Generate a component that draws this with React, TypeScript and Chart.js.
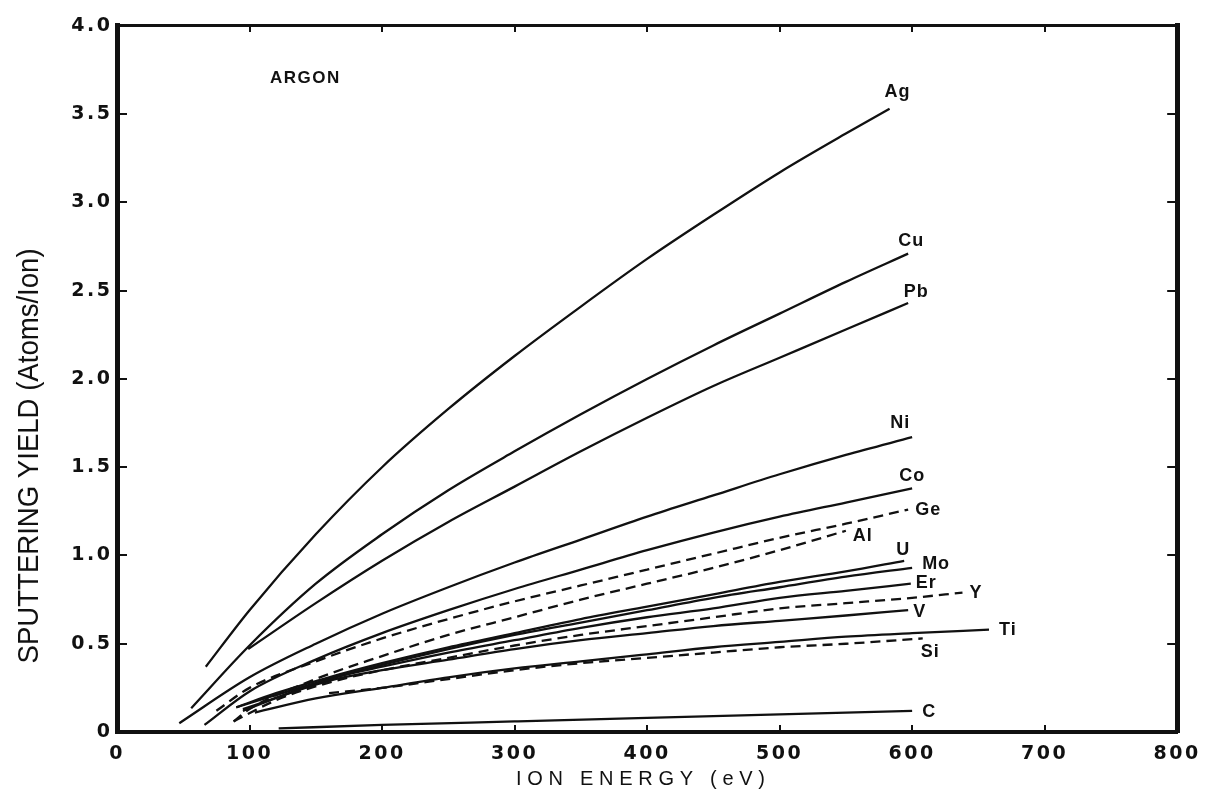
import React, { useEffect, useRef } from "react";
import { Chart, registerables } from "chart.js";

Chart.register(...registerables);

// ---- Data (ion energy in eV, sputtering yield in atoms/ion) ----
const X_MIN = 0;
const X_MAX = 800;
const X_STEP = 100;
const Y_MIN = 0;
const Y_MAX = 4.0;
const Y_STEP = 0.5;

const AG = [[67, 0.37], [100, 0.69], [150, 1.12], [200, 1.5], [250, 1.83], [300, 2.13], [350, 2.41], [400, 2.68], [450, 2.93], [500, 3.17], [550, 3.39], [583, 3.53]];
const CU = [[56, 0.135], [100, 0.49], [150, 0.84], [200, 1.12], [250, 1.37], [300, 1.59], [350, 1.8], [400, 2.0], [450, 2.19], [500, 2.37], [550, 2.55], [597, 2.71]];
const PB = [[99, 0.47], [150, 0.73], [200, 0.97], [250, 1.19], [300, 1.39], [350, 1.59], [400, 1.78], [450, 1.96], [500, 2.12], [550, 2.28], [597, 2.43]];
const NI = [[47, 0.05], [100, 0.31], [150, 0.5], [200, 0.67], [250, 0.82], [300, 0.96], [350, 1.09], [400, 1.22], [450, 1.34], [500, 1.46], [550, 1.57], [600, 1.67]];
const CO = [[66, 0.04], [100, 0.23], [150, 0.41], [200, 0.56], [250, 0.69], [300, 0.81], [350, 0.92], [400, 1.03], [450, 1.13], [500, 1.22], [550, 1.3], [600, 1.38]];
const GE = [[75, 0.12], [100, 0.25], [150, 0.4], [200, 0.53], [250, 0.64], [300, 0.74], [350, 0.83], [400, 0.92], [450, 1.01], [500, 1.1], [550, 1.18], [597, 1.26]];
const AL = [[88, 0.06], [100, 0.13], [150, 0.3], [200, 0.43], [250, 0.55], [300, 0.65], [350, 0.75], [400, 0.84], [450, 0.93], [500, 1.03], [550, 1.14]];
const U = [[90, 0.14], [120, 0.22], [160, 0.31], [200, 0.39], [250, 0.48], [300, 0.56], [350, 0.64], [400, 0.71], [450, 0.78], [500, 0.85], [550, 0.91], [594, 0.97]];
const MO = [[90, 0.14], [160, 0.3], [200, 0.38], [250, 0.47], [300, 0.55], [350, 0.62], [400, 0.69], [450, 0.76], [500, 0.82], [550, 0.88], [600, 0.93]];
const ER = [[95, 0.12], [160, 0.3], [200, 0.37], [250, 0.45], [300, 0.52], [350, 0.59], [400, 0.65], [450, 0.7], [500, 0.76], [550, 0.8], [599, 0.84]];
const YT = [[88, 0.06], [120, 0.18], [160, 0.28], [200, 0.35], [250, 0.42], [300, 0.49], [350, 0.55], [400, 0.6], [450, 0.65], [500, 0.7], [550, 0.73], [600, 0.76], [638, 0.79]];
const V = [[95, 0.13], [160, 0.29], [200, 0.35], [250, 0.41], [300, 0.47], [350, 0.52], [400, 0.56], [450, 0.6], [500, 0.63], [550, 0.66], [597, 0.69]];
const TI = [[104, 0.11], [150, 0.19], [200, 0.25], [250, 0.31], [300, 0.36], [350, 0.4], [400, 0.44], [450, 0.48], [500, 0.51], [550, 0.54], [600, 0.56], [658, 0.58]];
const SI = [[160, 0.22], [200, 0.25], [250, 0.3], [300, 0.35], [350, 0.39], [400, 0.42], [450, 0.45], [500, 0.48], [550, 0.5], [608, 0.53]];
const C = [[122, 0.02], [200, 0.04], [300, 0.06], [400, 0.08], [500, 0.1], [600, 0.12]];

const SERIES_NAMES = ["Ag", "Cu", "Pb", "Ni", "Co", "Ge", "Al", "U", "Mo", "Er", "Y", "V", "Ti", "Si", "C"];
const SERIES_DATA = [AG, CU, PB, NI, CO, GE, AL, U, MO, ER, YT, V, TI, SI, C];
const DASHED = ["Ge", "Al", "Y", "Si"];

const X_TITLE = "ION ENERGY (eV)";
const Y_TITLE = "SPUTTERING YIELD (Atoms/Ion)";
const GAS_LABEL = "ARGON";

// ---- Styling of the curve labels (pixel offsets from each curve's end) ----
const LABEL_STYLE: Record<string, { dx: number; dy: number; align: CanvasTextAlign }> = {
  Ag: { dx: 8, dy: -17, align: "center" },
  Cu: { dx: 3, dy: -13, align: "center" },
  Pb: { dx: 8, dy: -11, align: "center" },
  Ni: { dx: -12, dy: -14, align: "center" },
  Co: { dx: 0, dy: -12, align: "center" },
  Ge: { dx: 7, dy: 0, align: "left" },
  Al: { dx: 7, dy: 5, align: "left" },
  U: { dx: -1, dy: -11, align: "center" },
  Mo: { dx: 10, dy: -4, align: "left" },
  Er: { dx: 5, dy: -1, align: "left" },
  Y: { dx: 7, dy: 0, align: "left" },
  V: { dx: 5, dy: 2, align: "left" },
  Ti: { dx: 10, dy: 0, align: "left" },
  Si: { dx: -2, dy: 14, align: "left" },
  C: { dx: 10, dy: 1, align: "left" },
};

const INK = "#111111";
const FONT = '"Liberation Sans", Arial, sans-serif';
const TICK_FONT = '"DejaVu Sans", sans-serif';

const decorPlugin = {
  id: "decor",
  beforeDraw(chart: any) {
    chart.ctx.letterSpacing = "2.5px";
  },
  beforeDatasetsDraw(chart: any) {
    chart.ctx.letterSpacing = "0px";
  },
  afterDatasetsDraw(chart: any) {
    const ctx = chart.ctx as CanvasRenderingContext2D;
    ctx.save();
    ctx.fillStyle = INK;
    ctx.textBaseline = "middle";
    ctx.font = `bold 18px ${FONT}`;
    (ctx as any).letterSpacing = "1px";
    chart.data.datasets.forEach((ds: any, i: number) => {
      const meta = chart.getDatasetMeta(i);
      const last = meta.data[meta.data.length - 1];
      const st = LABEL_STYLE[ds.label];
      if (!last || !st) return;
      ctx.textAlign = st.align;
      ctx.fillText(ds.label, last.x + st.dx, last.y + st.dy);
    });
    const xs = chart.scales.x;
    const ys = chart.scales.y;
    ctx.textAlign = "left";
    ctx.font = `bold 17px ${FONT}`;
    (ctx as any).letterSpacing = "1.5px";
    ctx.fillText(GAS_LABEL, xs.left + 153, ys.top + 52);
    ctx.restore();
  },
  afterDraw(chart: any) {
    const ctx = chart.ctx as CanvasRenderingContext2D;
    const area = chart.chartArea;
    ctx.save();
    ctx.fillStyle = INK;
    ctx.textBaseline = "middle";
    // y title (tall, condensed lettering)
    ctx.font = `30px ${FONT}`;
    (ctx as any).letterSpacing = "0px";
    ctx.textAlign = "center";
    const w = ctx.measureText(Y_TITLE).width;
    ctx.save();
    ctx.translate(30, area.top + 430);
    ctx.rotate(-Math.PI / 2);
    ctx.scale(415 / w, 1);
    ctx.fillText(Y_TITLE, 0, 0);
    ctx.restore();
    // x title (letter-spaced)
    ctx.font = `20px ${FONT}`;
    const wx = ctx.measureText(X_TITLE).width;
    const sp = (249 - wx) / (X_TITLE.length - 1);
    (ctx as any).letterSpacing = `${sp}px`;
    ctx.textAlign = "left";
    ctx.fillText(X_TITLE, 516, 779);
    ctx.restore();
  },
};

export default function App() {
  const ref = useRef<HTMLCanvasElement | null>(null);

  useEffect(() => {
    if (!ref.current) return;
    const datasets = SERIES_NAMES.map((name, i) => ({
      label: name,
      data: SERIES_DATA[i].map(([x, y]) => ({ x, y })),
      borderColor: INK,
      backgroundColor: INK,
      borderWidth: 2.3,
      borderDash: DASHED.includes(name) ? [10, 6] : [],
      pointRadius: 0,
      cubicInterpolationMode: "monotone",
      fill: false,
    }));

    const tickFont = { family: TICK_FONT, size: 19, weight: "bold" };
    const chart = new Chart(ref.current, {
      type: "line",
      data: { datasets },
      options: {
        responsive: false,
        animation: false,
        events: [],
        layout: { padding: { top: 20, right: 25, left: 0, bottom: 0 } },
        plugins: { legend: { display: false }, tooltip: { enabled: false } },
        scales: {
          x: {
            type: "linear",
            position: "bottom",
            min: X_MIN,
            max: X_MAX,
            ticks: { stepSize: X_STEP, color: INK, font: tickFont, padding: 18, maxRotation: 0 },
            grid: { drawOnChartArea: false, drawTicks: true, tickLength: -7, color: INK, lineWidth: 2 },
            border: { display: true, color: INK, width: 4 },
            afterFit: (s: any) => { s.height = 62; },
          },
          xTop: {
            type: "linear",
            position: "top",
            min: X_MIN,
            max: X_MAX,
            ticks: { stepSize: X_STEP, display: false },
            grid: { drawOnChartArea: false, drawTicks: true, tickLength: -6, color: INK, lineWidth: 2 },
            border: { display: true, color: INK, width: 3 },
            afterFit: (s: any) => { s.height = 0; },
          },
          y: {
            type: "linear",
            position: "left",
            min: Y_MIN,
            max: Y_MAX,
            ticks: {
              stepSize: Y_STEP,
              color: INK,
              font: tickFont,
              padding: 14.5,
              callback: (v: any) => (Number(v) === 0 ? "0" : Number(v).toFixed(1)),
            },
            grid: { drawOnChartArea: false, drawTicks: true, tickLength: -10, color: INK, lineWidth: 2 },
            border: { display: true, color: INK, width: 5 },
            afterFit: (s: any) => { s.width = 117; },
          },
          yRight: {
            type: "linear",
            position: "right",
            min: Y_MIN,
            max: Y_MAX,
            ticks: { stepSize: Y_STEP, display: false },
            grid: { drawOnChartArea: false, drawTicks: true, tickLength: -10, color: INK, lineWidth: 2 },
            border: { display: true, color: INK, width: 5 },
            afterFit: (s: any) => { s.width = 0; },
          },
        },
      },
      plugins: [decorPlugin],
    } as any);
    return () => chart.destroy();
  }, []);

  return (
    <div style={{ position: "absolute", left: 0, top: 0, width: 1215, height: 794, background: "#fff" }}>
      <canvas ref={ref} width={1215} height={794} style={{ display: "block" }} />
    </div>
  );
}
